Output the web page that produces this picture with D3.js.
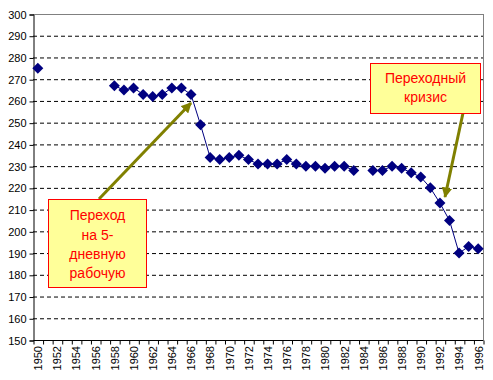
<!DOCTYPE html>
<html><head><meta charset="utf-8">
<script src="https://cdn.jsdelivr.net/npm/d3@7"></script>
<style>body{margin:0;background:#fff}svg{display:block}text{font-family:Arial,"Liberation Sans",sans-serif}</style>
</head><body><svg id="c" width="493" height="380"></svg>
<script>
const years = d3.range(1950, 1997);
const values = [275, null, null, null, null, null, null, null,
  267, 265, 266, 263, 262, 263, 266, 266, 263, 249, 234, 233, 234, 235, 233,
  231, 231, 231, 233, 231, 230, 230, 229, 230, 230, 228, null,
  228, 228, 230, 229, 227, 225, 220, 213, 205, 190, 193, 192];
const yTicks = d3.range(150, 301, 10);
const xLabelYears = d3.range(1950, 1997, 2);
const note1 = ["Переход", "на 5-", "дневную", "рабочую"];
const note2 = ["Переходный", "кризис"];

const svg = d3.select("#c");
const L = 33, R = 483, T = 14, B = 340;
const x = d3.scaleLinear().domain([1949.5, 1996.5]).range([L, R]);
const y = d3.scaleLinear().domain([150, 300]).range([B, T]);

// grid
svg.append("g").selectAll("line").data(yTicks.filter(v => v > 150 && v < 300)).join("line")
  .attr("x1", L).attr("x2", R).attr("y1", d => y(d) + 0.5).attr("y2", d => y(d) + 0.5)
  .attr("stroke", "#000").attr("stroke-dasharray", "4,3");
svg.append("line").attr("x1", L).attr("x2", R + 0.5).attr("y1", T + 0.5).attr("y2", T + 0.5).attr("stroke", "#808080");
svg.append("line").attr("x1", R + 0.5).attr("x2", R + 0.5).attr("y1", T).attr("y2", B).attr("stroke", "#808080");

// y axis
const ya = svg.append("g").attr("transform", `translate(${L + 0.5},0.5)`)
  .call(d3.axisLeft(y).tickValues(yTicks).tickSize(4).tickPadding(3).tickFormat(d3.format("d")));
ya.select(".domain").attr("stroke", "#000");
ya.selectAll("text").attr("font-size", 11).attr("fill", "#000").style("font-family", "Arial, 'Liberation Sans', sans-serif");

// x axis boundary ticks
const xa = svg.append("g").attr("transform", `translate(0.5,${B + 0.5})`)
  .call(d3.axisBottom(x).tickValues(years.map(v => v - 0.5).concat([1996.5])).tickSize(4).tickFormat(""));
xa.select(".domain").attr("stroke", "#000").attr("d", `M${L},0H${R}`);
// x labels
const xl = svg.append("g").attr("transform", `translate(0,${B})`)
  .call(d3.axisBottom(x).tickValues(xLabelYears).tickSize(0).tickFormat(d3.format("d")));
xl.select(".domain").remove();
xl.selectAll("text").attr("font-size", 11).attr("fill", "#000")
  .style("font-family", "Arial, 'Liberation Sans', sans-serif")
  .attr("transform", "rotate(-90)").attr("text-anchor", "end")
  .attr("x", -6).attr("y", 0).attr("dy", "0.35em");

// line
const data = years.map((yr, i) => ({yr, v: values[i]}));
svg.append("path").datum(data)
  .attr("d", d3.line().defined(d => d.v != null).x(d => x(d.yr)).y(d => y(d.v)))
  .attr("fill", "none").attr("stroke", "#000080").attr("stroke-width", 1);
svg.append("g").selectAll("path").data(data.filter(d => d.v != null)).join("path")
  .attr("transform", d => `translate(${x(d.yr)},${y(d.v)})`)
  .attr("d", "M0,-5.5L5.5,0L0,5.5L-5.5,0Z").attr("fill", "#000080");

// arrows
const defs = svg.append("defs");
defs.append("marker").attr("id", "ah").attr("viewBox", "0 0 10 10").attr("refX", 9).attr("refY", 5)
  .attr("markerWidth", 3.5).attr("markerHeight", 3.5).attr("orient", "auto").attr("markerUnits", "strokeWidth")
  .append("path").attr("d", "M0,0L10,5L0,10Z").attr("fill", "#808000");
svg.append("line").attr("x1", 99).attr("y1", 199).attr("x2", 191).attr("y2", 103)
  .attr("stroke", "#808000").attr("stroke-width", 3).attr("marker-end", "url(#ah)");
svg.append("line").attr("x1", 463).attr("y1", 113).attr("x2", 445).attr("y2", 197)
  .attr("stroke", "#808000").attr("stroke-width", 3).attr("marker-end", "url(#ah)");

// notes
function note(x0, y0, w, h, lines, ly0, lh) {
  svg.append("rect").attr("x", x0 + 0.5).attr("y", y0 + 0.5).attr("width", w).attr("height", h)
    .attr("fill", "#FFFF99").attr("stroke", "#FF0000");
  svg.append("g").selectAll("text").data(lines).join("text")
    .attr("x", x0 + w / 2 + 0.5).attr("y", (d, i) => ly0 + i * lh).attr("dy", "0.35em")
    .attr("text-anchor", "middle").attr("font-size", 14).attr("fill", "#FF0000").text(d => d);
}
note(48, 199, 98, 88, note1, 215.5, 19.3);
note(370, 63, 110, 50, note2, 78.5, 19);
</script></body></html>
